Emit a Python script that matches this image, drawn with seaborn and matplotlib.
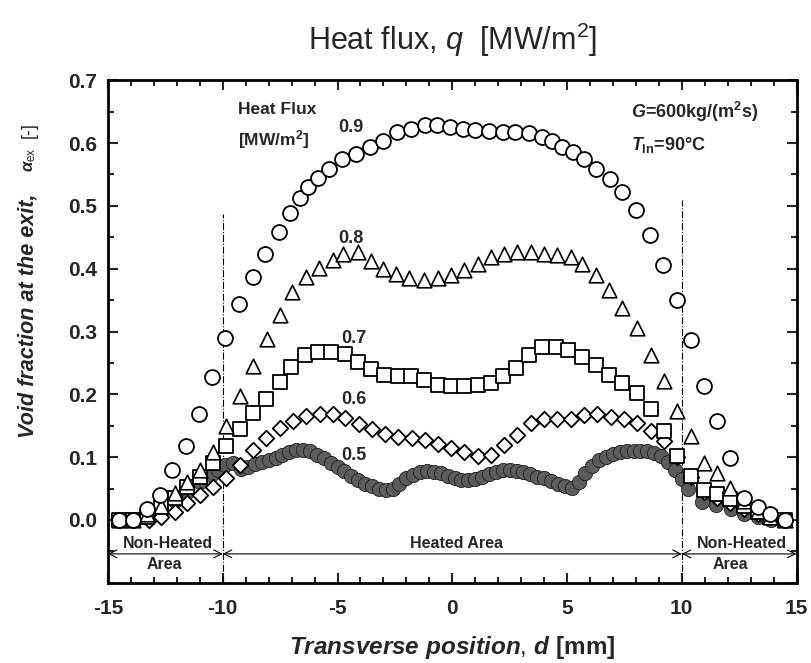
import matplotlib
matplotlib.use("Agg")
import matplotlib.pyplot as plt
import seaborn as sns
from matplotlib.ticker import MultipleLocator, FixedLocator, FormatStrFormatter

# Heat flux 0.9 MW/m2 (open circles)
q09_d = [-14.5, -13.9, -13.3, -12.75, -12.2, -11.6, -11.05, -10.45, -9.9, -9.3,
         -8.7, -8.15, -7.55, -7.05, -6.65, -6.3, -5.85, -5.35, -4.8, -4.2,
         -3.6, -3.0, -2.4, -1.8, -1.2, -0.65, -0.1, 0.45, 1.0, 1.6,
         2.2, 2.75, 3.35, 3.9, 4.35, 4.8, 5.25, 5.75, 6.25, 6.85,
         7.4, 8.0, 8.6, 9.2, 9.8, 10.4, 10.95, 11.55, 12.1, 12.7,
         13.3, 13.85, 14.5]
q09_v = [0.0, 0.0, 0.017, 0.04, 0.079, 0.117, 0.168, 0.228, 0.29, 0.343,
         0.386, 0.424, 0.458, 0.488, 0.512, 0.53, 0.545, 0.559, 0.575, 0.583,
         0.594, 0.604, 0.617, 0.623, 0.628, 0.628, 0.625, 0.622, 0.62, 0.619,
         0.618, 0.617, 0.616, 0.61, 0.604, 0.594, 0.586, 0.575, 0.559, 0.543,
         0.522, 0.493, 0.453, 0.406, 0.35, 0.287, 0.213, 0.157, 0.099, 0.035,
         0.02, 0.009, 0.0]

# Heat flux 0.8 MW/m2 (open triangles)
q08_d = [-14.5, -13.9, -13.3, -12.7, -12.1, -11.55, -11.0, -10.42, -9.87, -9.26,
         -8.68, -8.06, -7.52, -6.97, -6.36, -5.82, -5.2, -4.77, -4.12, -3.55,
         -3.03, -2.45, -1.87, -1.22, -0.64, -0.06, 0.52, 1.1, 1.68, 2.26,
         2.84, 3.42, 4.0, 4.58, 5.16, 5.67, 6.25, 6.83, 7.4, 8.06,
         8.64, 9.22, 9.8, 10.38, 10.96, 11.53, 12.12, 12.7, 13.3, 13.85, 14.5]
q08_v = [0.0, 0.0, 0.01, 0.022, 0.043, 0.06, 0.079, 0.108, 0.149, 0.197,
         0.245, 0.288, 0.327, 0.363, 0.386, 0.401, 0.414, 0.423, 0.426, 0.413,
         0.399, 0.391, 0.385, 0.382, 0.385, 0.39, 0.398, 0.408, 0.419, 0.424,
         0.427, 0.427, 0.424, 0.421, 0.419, 0.408, 0.39, 0.366, 0.337, 0.305,
         0.263, 0.221, 0.173, 0.133, 0.091, 0.075, 0.051, 0.03, 0.015, 0.005, 0.0]

# Heat flux 0.7 MW/m2 (open squares)
q07_d = [-14.5, -13.9, -13.3, -12.7, -12.1, -11.55, -11.0, -10.42, -9.84, -9.26,
         -8.68, -8.1, -7.52, -7.01, -6.43, -5.86, -5.27, -4.68, -4.12, -3.53,
         -2.96, -2.38, -1.8, -1.22, -0.64, -0.06, 0.52, 1.1, 1.68, 2.19,
         2.77, 3.35, 3.93, 4.5, 5.05, 5.67, 6.25, 6.83, 7.4, 8.06,
         8.64, 9.22, 9.8, 10.38, 10.96, 11.53, 12.12, 12.7, 13.3, 13.85, 14.5]
q07_v = [0.0, 0.0, 0.005, 0.02, 0.035, 0.052, 0.068, 0.09, 0.117, 0.144,
         0.17, 0.193, 0.219, 0.244, 0.263, 0.268, 0.268, 0.264, 0.252, 0.24,
         0.231, 0.229, 0.229, 0.223, 0.215, 0.213, 0.213, 0.215, 0.218, 0.229,
         0.242, 0.263, 0.276, 0.276, 0.271, 0.26, 0.247, 0.231, 0.218, 0.202,
         0.176, 0.141, 0.102, 0.07, 0.047, 0.041, 0.033, 0.022, 0.012, 0.004, 0.0]

# Heat flux 0.6 MW/m2 (open diamonds)
q06_d = [-14.5, -13.9, -13.2, -12.67, -12.09, -11.55, -11.0, -10.42, -9.84, -9.26,
         -8.68, -8.1, -7.52, -6.94, -6.36, -5.78, -5.2, -4.66, -4.06, -3.5,
         -2.93, -2.35, -1.77, -1.2, -0.62, -0.06, 0.52, 1.1, 1.68, 2.26,
         2.84, 3.42, 4.0, 4.58, 5.16, 5.74, 6.32, 6.9, 7.48, 8.06,
         8.64, 9.22, 9.8, 10.38, 10.96, 11.53, 12.12, 12.7, 13.3, 13.85, 14.5]
q06_v = [0.0, 0.0, 0.0, 0.005, 0.013, 0.027, 0.04, 0.052, 0.067, 0.088,
         0.112, 0.131, 0.147, 0.157, 0.165, 0.168, 0.168, 0.162, 0.153, 0.144,
         0.137, 0.132, 0.131, 0.128, 0.121, 0.115, 0.108, 0.102, 0.104, 0.119,
         0.136, 0.154, 0.161, 0.161, 0.161, 0.167, 0.168, 0.164, 0.16, 0.154,
         0.142, 0.125, 0.1, 0.068, 0.045, 0.035, 0.027, 0.018, 0.01, 0.004, 0.0]

# Heat flux 0.5 MW/m2 (filled circles, finer spacing in the heated area)
q05_d = [-14.5, -13.9, -13.3, -12.7, -12.1, -11.55, -11.0, -10.5,
         -10.2, -9.9, -9.55, -9.2, -8.9, -8.6, -8.3, -8.0, -7.7, -7.4,
         -7.1, -6.8, -6.5, -6.2, -5.9, -5.6, -5.3, -5.0, -4.7, -4.4,
         -4.1, -3.8, -3.5, -3.2, -2.9, -2.6, -2.3, -2.0, -1.7, -1.4,
         -1.1, -0.8, -0.5, -0.2, 0.1, 0.4, 0.7, 1.0, 1.3, 1.6,
         1.9, 2.2, 2.5, 2.8, 3.1, 3.4, 3.7, 4.0, 4.3, 4.6,
         4.9, 5.2, 5.5, 5.8, 6.1, 6.4, 6.7, 7.0, 7.3, 7.6,
         7.9, 8.2, 8.5, 8.8, 9.1, 9.4, 9.7, 10.0,
         10.25, 10.9, 11.5, 12.15, 12.7, 13.3, 13.9, 14.5]
q05_v = [0.0, 0.0, 0.005, 0.015, 0.03, 0.045, 0.06, 0.072,
         0.08, 0.088, 0.09, 0.081, 0.085, 0.089, 0.092, 0.095, 0.099, 0.104,
         0.108, 0.111, 0.112, 0.109, 0.104, 0.098, 0.091, 0.085, 0.078, 0.07,
         0.064, 0.058, 0.054, 0.05, 0.048, 0.05, 0.058, 0.066, 0.072, 0.076,
         0.078, 0.077, 0.074, 0.07, 0.067, 0.064, 0.063, 0.065, 0.069, 0.073,
         0.077, 0.079, 0.079, 0.078, 0.076, 0.073, 0.069, 0.066, 0.062, 0.058,
         0.054, 0.051, 0.06, 0.074, 0.086, 0.095, 0.101, 0.105, 0.108, 0.11,
         0.11, 0.11, 0.109, 0.106, 0.102, 0.093, 0.08, 0.065,
         0.05, 0.028, 0.024, 0.017, 0.01, 0.005, 0.0, 0.0]

flux_labels = ["0.5", "0.6", "0.7", "0.8", "0.9"]
label_pos = [(-4.3, 0.102), (-4.3, 0.192), (-4.3, 0.289), (-4.4, 0.448), (-4.4, 0.625)]
y_ticks = [0.0, 0.1, 0.2, 0.3, 0.4, 0.5, 0.6, 0.7]

sns.set_style("ticks")
plt.rcParams['font.family'] = ['Liberation Sans', 'DejaVu Sans']
plt.rcParams['axes.unicode_minus'] = False
plt.rcParams['mathtext.fontset'] = 'custom'
plt.rcParams['mathtext.rm'] = 'Liberation Sans'
plt.rcParams['mathtext.it'] = 'Liberation Sans:italic:bold'
plt.rcParams['mathtext.bf'] = 'Liberation Sans:bold'
plt.rcParams['mathtext.sf'] = 'Liberation Sans:italic'

fig = plt.figure(figsize=(8.12, 6.63), dpi=100)
ax = fig.add_axes([0.133, 0.121, 0.848, 0.758])

# draw from lowest flux to highest, so open markers cover the ones below
series = [
    (q05_d, q05_v, 'o', '#5c5c5c', '#1e1e1e', 0.6, 105),
    (q06_d, q06_v, 'D', 'white', 'black', 1.3, 62),
    (q07_d, q07_v, 's', 'white', 'black', 1.3, 95),
    (q08_d, q08_v, '^', 'white', 'black', 1.2, 110),
    (q09_d, q09_v, 'o', 'white', 'black', 1.3, 115),
]
for d, v, m, fc, ec, lw, s in series:
    sns.scatterplot(x=d, y=v, marker=m, color=fc, edgecolor=ec, linewidth=lw,
                    s=s, ax=ax, legend=False, zorder=3)

ax.set_xlim(-15, 15)
ax.set_ylim(-0.1, 0.7)
ax.xaxis.set_major_locator(MultipleLocator(5))
ax.xaxis.set_minor_locator(MultipleLocator(1))
ax.yaxis.set_major_locator(FixedLocator(y_ticks))
ax.yaxis.set_minor_locator(MultipleLocator(0.05))
ax.yaxis.set_major_formatter(FormatStrFormatter('%.1f'))
ax.tick_params(which='both', direction='in', top=True, right=True, width=1.5)
ax.tick_params(which='major', length=7, labelsize=15)
ax.tick_params(axis='x', which='major', pad=12)
ax.tick_params(axis='y', which='major', pad=8)
ax.tick_params(which='minor', length=4)
for lab in ax.get_xticklabels() + ax.get_yticklabels():
    lab.set_fontweight('bold')
for sp in ax.spines.values():
    sp.set_linewidth(2)
    sp.set_color('black')

# heated area boundaries
ax.vlines(-10, -0.1, 0.487, colors='black', linestyles='-.', linewidth=0.8)
ax.vlines(10, -0.1, 0.51, colors='black', linestyles='-.', linewidth=0.8)

# area arrows
arrow_y = -0.054
for x0, x1 in [(-15, -10), (-10, 10), (10, 15)]:
    ax.annotate('', xy=(x0, arrow_y), xytext=(x1, arrow_y),
                arrowprops=dict(arrowstyle='<->', color='black', lw=0.8,
                                shrinkA=0, shrinkB=0, mutation_scale=14))
ax.text(-12.4, -0.037, "Non-Heated", ha='center', va='center', fontsize=11.5, fontweight='bold')
ax.text(-12.55, -0.071, "Area", ha='center', va='center', fontsize=11.5, fontweight='bold')
ax.text(0.2, -0.037, "Heated Area", ha='center', va='center', fontsize=11.5, fontweight='bold')
ax.text(12.6, -0.037, "Non-Heated", ha='center', va='center', fontsize=11.5, fontweight='bold')
ax.text(12.1, -0.071, "Area", ha='center', va='center', fontsize=11.5, fontweight='bold')

# series labels
for lab, (x, y) in zip(flux_labels, label_pos):
    ax.text(x, y, lab, ha='center', va='center', fontsize=13, fontweight='bold')
ax.text(-9.35, 0.654, "Heat Flux", ha='left', va='center', fontsize=12.5, fontweight='bold')
ax.text(-9.35, 0.606, r"[MW/m$^\mathbf{2}$]", ha='left', va='center', fontsize=12.5, fontweight='bold')

ax.text(7.8, 0.649, r"$G$=600kg/(m$^\mathbf{2}$s)", ha='left', va='center', fontsize=13, fontweight='bold')
ax.text(7.8, 0.597, r"$T_\mathbf{In}$=90°C", ha='left', va='center', fontsize=13, fontweight='bold')

# axis titles
ax.set_xlabel(r"$Transverse\ position{,}\ d$ [mm]", fontsize=17.5, fontweight='bold', labelpad=11)
fig.text(0.034, 1 - 438 / 663, "Void fraction at the exit,", rotation=90, ha='center', va='bottom',
         fontsize=15.6, fontweight='bold', style='italic')
fig.text(0.037, 1 - 172 / 663, r"$\alpha_{\mathrm{ex}}$", rotation=90, ha='center', va='bottom', fontsize=12)
fig.text(0.036, 1 - 138 / 663, "[-]", rotation=90, ha='center', va='bottom', fontsize=13)

fig.text(0.557, 1 - 40 / 663, r"Heat flux, $\mathsf{q}$  [MW/m$^2$]", ha='center', va='center', fontsize=22)

fig.savefig("out.png", dpi=100)
